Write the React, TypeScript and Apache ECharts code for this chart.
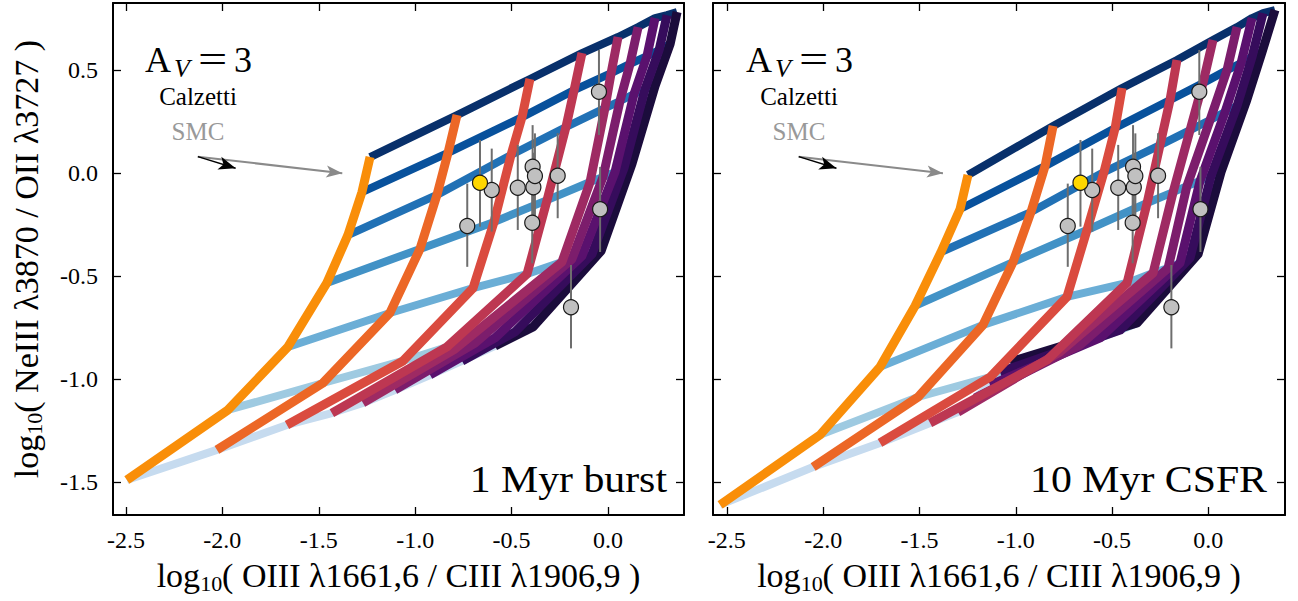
import React, { useEffect, useRef } from 'react';
import * as echarts from 'echarts';

// Colours: ionisation tracks (blue) and metallicity tracks (orange -> purple)
const BLUE_COLORS = ['#08306b', '#08519c', '#2171b5', '#4292c6', '#6baed6', '#9ecae1', '#c6dbef'];
const Z_COLORS = ['#f98e09', '#ec6726', '#da4b3f', '#bd3752', '#9e2a63', '#7c1d6c', '#5a116e', '#360c5c', '#1b0c3c'];

const X_TICKS = [-2.5, -2.0, -1.5, -1.0, -0.5, 0.0];
const Y_TICKS = [-1.5, -1.0, -0.5, 0.0, 0.5];

// 1 Myr burst model grid: rows = metallicity tracks, columns = ionisation tracks
const burstX = [
  [-1.234, -1.276, -1.349, -1.458, -1.660, -1.971, -2.495],
  [-0.783, -0.830, -0.887, -0.975, -1.131, -1.478, -2.028],
  [-0.405, -0.446, -0.503, -0.591, -0.700, -1.063, -1.665],
  [-0.135, -0.176, -0.218, -0.316, -0.420, -0.835, -1.432],
  [0.052, 0.016, -0.016, -0.093, -0.239, -0.794, -1.271],
  [0.156, 0.114, 0.062, -0.026, -0.187, -0.690, -1.105],
  [0.244, 0.202, 0.135, 0.036, -0.135, -0.586, -0.923],
  [0.306, 0.265, 0.192, 0.083, -0.083, -0.482, -0.757],
  [0.358, 0.322, 0.244, 0.124, -0.036, -0.389, -0.586],
];
const burstY = [
  [0.079, -0.091, -0.300, -0.532, -0.843, -1.149, -1.489],
  [0.283, 0.099, -0.105, -0.367, -0.678, -1.018, -1.343],
  [0.458, 0.273, 0.089, -0.236, -0.557, -0.911, -1.222],
  [0.584, 0.404, 0.225, -0.130, -0.489, -0.843, -1.164],
  [0.662, 0.487, 0.317, -0.042, -0.431, -0.853, -1.115],
  [0.710, 0.531, 0.351, -0.018, -0.416, -0.824, -1.052],
  [0.754, 0.569, 0.385, 0.006, -0.401, -0.799, -0.979],
  [0.768, 0.599, 0.409, 0.026, -0.392, -0.770, -0.911],
  [0.783, 0.628, 0.424, 0.045, -0.377, -0.746, -0.838],
];

// 10 Myr CSFR model grid
const csfrX = [
  [-1.248, -1.289, -1.388, -1.523, -1.705, -2.016, -2.535],
  [-0.806, -0.848, -0.921, -1.014, -1.170, -1.507, -2.052],
  [-0.448, -0.484, -0.542, -0.630, -0.734, -1.133, -1.705],
  [-0.163, -0.199, -0.251, -0.318, -0.422, -0.837, -1.445],
  [0.024, -0.028, -0.095, -0.183, -0.287, -0.770, -1.300],
  [0.149, 0.097, 0.009, -0.111, -0.209, -0.666, -1.211],
  [0.227, 0.170, 0.087, -0.043, -0.147, -0.562, -1.133],
  [0.284, 0.227, 0.149, 0.014, -0.095, -0.458, -1.082],
  [0.346, 0.279, 0.196, 0.066, -0.053, -0.370, -1.030],
];
const csfrY = [
  [-0.008, -0.173, -0.382, -0.644, -0.940, -1.270, -1.610],
  [0.230, 0.035, -0.188, -0.431, -0.736, -1.086, -1.426],
  [0.414, 0.220, 0.006, -0.275, -0.600, -0.989, -1.309],
  [0.550, 0.356, 0.137, -0.144, -0.532, -0.906, -1.212],
  [0.647, 0.438, 0.210, -0.091, -0.484, -0.867, -1.159],
  [0.710, 0.501, 0.259, -0.062, -0.460, -0.833, -1.091],
  [0.754, 0.535, 0.298, -0.037, -0.435, -0.799, -1.028],
  [0.778, 0.565, 0.327, -0.013, -0.411, -0.761, -0.965],
  [0.793, 0.589, 0.346, 0.006, -0.392, -0.727, -0.916],
];

// Observed galaxies (grey) with vertical error bars
const obsX = [-0.047, -0.391, -0.387, -0.379, -0.261, -0.468, -0.603, -0.730, -0.393, -0.041, -0.192];
const obsY = [0.396, 0.032, -0.068, -0.013, -0.012, -0.070, -0.081, -0.256, -0.240, -0.174, -0.650];
const obsLo = [0.186, -0.170, -0.240, -0.220, -0.218, -0.275, -0.283, -0.454, -0.437, -0.382, -0.850];
const obsHi = [0.599, 0.234, 0.100, 0.194, 0.195, 0.138, 0.120, -0.050, -0.020, 0.031, -0.445];
// Highlighted object (yellow)
const hiX = [-0.664];
const hiY = [-0.046];
const hiLo = [-0.259];
const hiHi = [0.162];

// Dust vectors (A_V = 3): start and end points
const vecStart = [-2.127, 0.081];
const calzettiEnd = [-1.378, 0.0];
const smcEnd = [-1.931, 0.025];

const SERIF = '"Liberation Serif", "Times New Roman", serif';

function axesFor(gi: number, xmin: number, xmax: number, ymin: number, ymax: number, showY: boolean) {
  const line = { show: true, onZero: false, lineStyle: { color: '#000', width: 2 } };
  const xt = { show: true, inside: true, length: 8, customValues: X_TICKS, lineStyle: { color: '#000', width: 1.3 } };
  const yt = { show: true, inside: true, length: 8, customValues: Y_TICKS, lineStyle: { color: '#000', width: 1.3 } };
  const rich = {
    m: { fontFamily: SERIF, fontSize: 34, color: '#000' },
    s: { fontFamily: SERIF, fontSize: 22, color: '#000', padding: [15, 0, 0, 0] },
  };
  const xAxes = [
    {
      type: 'value', gridIndex: gi, min: xmin, max: xmax, position: 'bottom',
      axisLine: line, axisTick: xt, splitLine: { show: false },
      axisLabel: { show: true, customValues: X_TICKS, formatter: (v: number) => v.toFixed(1), fontFamily: SERIF, fontSize: 24, color: '#000', margin: 13 },
      name: '{m|log}{s|10}{m|( OIII λ1661,6 / CIII λ1906,9 )}',
      nameLocation: 'middle', nameGap: 42,
      nameTextStyle: { fontFamily: SERIF, fontSize: 34, color: '#000', rich },
    },
    {
      type: 'value', gridIndex: gi, min: xmin, max: xmax, position: 'top',
      axisLine: line, axisTick: xt, splitLine: { show: false }, axisLabel: { show: false },
    },
  ];
  const yAxes = [
    {
      type: 'value', gridIndex: gi, min: ymin, max: ymax, position: 'left',
      axisLine: line, axisTick: yt, splitLine: { show: false },
      axisLabel: { show: showY, customValues: Y_TICKS, formatter: (v: number) => v.toFixed(1), fontFamily: SERIF, fontSize: 24, color: '#000', margin: 15 },
      name: showY ? '{m|log}{s|10}{m|( NeIII λ3870 / OII λ3727 )}' : '',
      nameLocation: 'middle', nameGap: 68,
      nameTextStyle: { fontFamily: SERIF, fontSize: 34, color: '#000', rich },
    },
    {
      type: 'value', gridIndex: gi, min: ymin, max: ymax, position: 'right',
      axisLine: line, axisTick: yt, splitLine: { show: false }, axisLabel: { show: false },
    },
  ];
  return { xAxes, yAxes };
}

function panelSeries(X: number[][], Y: number[][], xi: number, yi: number) {
  const s: any[] = [];
  for (let b = BLUE_COLORS.length - 1; b >= 0; b--) {
    s.push({
      type: 'line', xAxisIndex: xi, yAxisIndex: yi, silent: true, symbol: 'none', showSymbol: false,
      data: X.map((row, o) => [row[b], Y[o][b]]),
      lineStyle: { color: BLUE_COLORS[b], width: 8, cap: 'butt', join: 'round' },
      z: 2,
    });
  }
  // metallicity tracks: highest metallicity drawn first (underneath)
  for (let o = X.length - 1; o >= 0; o--) {
    s.push({
      type: 'line', xAxisIndex: xi, yAxisIndex: yi, silent: true, symbol: 'none', showSymbol: false,
      data: X[o].map((x, b) => [x, Y[o][b]]),
      lineStyle: { color: Z_COLORS[o], width: 9, cap: 'butt', join: 'round' },
      z: 3,
    });
  }
  const errRender = (params: any, api: any) => {
    const x = api.value(0);
    const p1 = api.coord([x, api.value(1)]);
    const p2 = api.coord([x, api.value(2)]);
    return { type: 'line', shape: { x1: p1[0], y1: p1[1], x2: p2[0], y2: p2[1] }, style: { stroke: '#6e6e6e', lineWidth: 2 } };
  };
  s.push({
    type: 'custom', xAxisIndex: xi, yAxisIndex: yi, silent: true, z: 4,
    renderItem: errRender, encode: { x: 0, y: [1, 2] },
    data: obsX.map((x, i) => [x, obsLo[i], obsHi[i]]).concat(hiX.map((x, i) => [x, hiLo[i], hiHi[i]])),
  });
  s.push({
    type: 'scatter', xAxisIndex: xi, yAxisIndex: yi, silent: true, z: 5, symbolSize: 15,
    data: obsX.map((x, i) => [x, obsY[i]]),
    itemStyle: { color: '#c0c0c0', borderColor: '#1a1a1a', borderWidth: 1.2, opacity: 1 },
  });
  s.push({
    type: 'scatter', xAxisIndex: xi, yAxisIndex: yi, silent: true, z: 5, symbolSize: 15,
    data: hiX.map((x, i) => [x, hiY[i]]),
    itemStyle: { color: '#ffd700', borderColor: '#1a1a1a', borderWidth: 1.2, opacity: 1 },
  });
  const arrow = (end: number[], color: string, width: number, size: number[]) => ({
    type: 'scatter', xAxisIndex: xi, yAxisIndex: yi, silent: true, z: 6, symbolSize: 0,
    data: [vecStart],
    markLine: {
      silent: true, symbol: ['none', 'arrow'], symbolSize: size, animation: false,
      label: { show: false }, emphasis: { disabled: true },
      lineStyle: { color, width, type: 'solid' },
      data: [[{ coord: vecStart }, { coord: end }]],
    },
  });
  s.push(arrow(calzettiEnd, '#8a8a8a', 2, [9, 16]));
  s.push(arrow(smcEnd, '#000000', 1.5, [10, 17]));
  return s;
}

function annotations(dx: number, label: string, labelRight: number) {
  const t = (text: string, x: number, y: number, size: number, opts: any = {}) => ({
    type: 'text', x, y, silent: true, z: 10, scaleX: opts.scaleX || 1,
    style: { text, fontFamily: SERIF, fontSize: size, fill: opts.fill || '#000', fontStyle: opts.italic ? 'italic' : 'normal', align: opts.align || 'left', verticalAlign: 'middle' },
  });
  return [
    t('A', 145 + dx, 60, 36),
    t('V', 174 + dx, 68, 26, { italic: true }),
    t('=', 198 + dx, 60, 40, { scaleX: 1.3 }),
    t('3', 234 + dx, 60, 36),
    t('Calzetti', 198 + dx, 96, 25, { align: 'center' }),
    t('SMC', 198 + dx, 131, 25, { align: 'center', fill: '#999999' }),
    t(label, labelRight, 479, 38, { align: 'right', scaleX: 1.1 }),
  ];
}

export default function App() {
  const ref = useRef<HTMLDivElement>(null);
  useEffect(() => {
    if (!ref.current) return;
    const chart = echarts.init(ref.current, null, { renderer: 'svg' });
    const a0 = axesFor(0, -2.567, 0.394, -1.659, 0.827, true);
    const a1 = axesFor(1, -2.572, 0.398, -1.659, 0.827, false);
    const option: any = {
      animation: false,
      backgroundColor: '#ffffff',
      grid: [
        { left: 113, top: 3, width: 571, height: 512 },
        { left: 713, top: 3, width: 572, height: 512 },
      ],
      xAxis: [...a0.xAxes, ...a1.xAxes],
      yAxis: [...a0.yAxes, ...a1.yAxes],
      series: [...panelSeries(burstX, burstY, 0, 0), ...panelSeries(csfrX, csfrY, 2, 2)],
      graphic: [...annotations(0, '1 Myr burst', 667), ...annotations(601, '10 Myr CSFR', 1267)],
    };
    chart.setOption(option);
    return () => chart.dispose();
  }, []);
  return <div ref={ref} style={{ position: 'absolute', left: 0, top: 0, width: 1298, height: 601, background: '#fff' }} />;
}
